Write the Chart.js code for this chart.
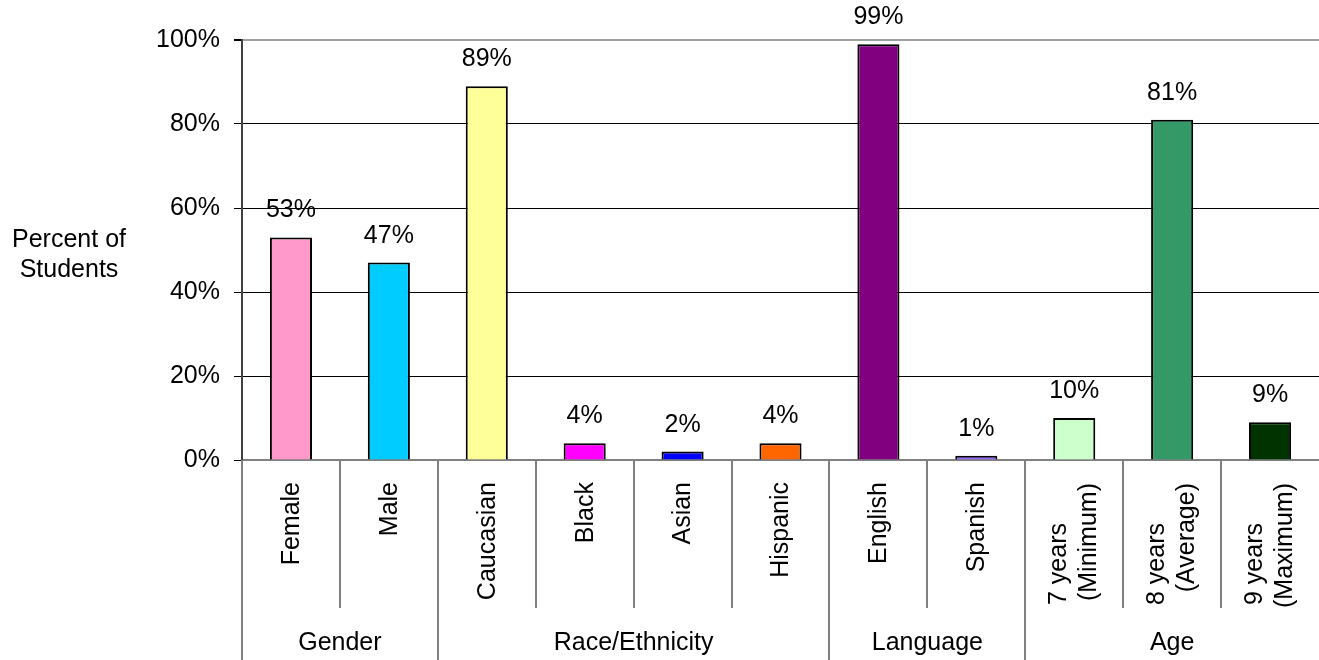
<!DOCTYPE html>
<html>
<head>
<meta charset="utf-8">
<script src="https://cdn.jsdelivr.net/npm/chart.js@4.4.0/dist/chart.umd.min.js"></script>
<style>
  body { margin: 0; background: #fff; }
  #wrap { width: 1319px; height: 660px; }
</style>
</head>
<body>
<div id="wrap"><canvas id="chart" width="1319" height="660"></canvas></div>
<script>
const categories = ["Female", "Male", "Caucasian", "Black", "Asian", "Hispanic", "English", "Spanish",
  ["7 years", "(Minimum)"], ["8 years", "(Average)"], ["9 years", "(Maximum)"]]
const percents = [53, 47, 89, 4, 2, 4, 99, 1, 10, 81, 9]
const barColors = ["#ff99cc", "#00ccff", "#ffff99", "#ff00ff", "#0000ff", "#ff6600",
  "#800080", "#9966ff", "#ccffcc", "#339966", "#003300"]
const groups = ["Gender", "Race/Ethnicity", "Language", "Age"]
const groupSizes = [2, 4, 2, 3]
const yTicks = [0, 20, 40, 60, 80, 100]

const FONT = '"Liberation Sans", Arial, sans-serif'
const F = (s) => s + "px " + FONT

// value labels above bars, two-level category axis, y title
const extras = {
  id: "extras",
  afterDatasetsDraw(chart) {
    const ctx = chart.ctx
    ctx.save()
    ctx.font = F(25)
    ctx.fillStyle = "#000"
    ctx.textAlign = "center"
    ctx.textBaseline = "alphabetic"
    chart.getDatasetMeta(0).data.forEach((bar, i) => {
      ctx.fillText(percents[i] + "%", bar.x, bar.y - 20)
    })
    ctx.restore()
  },
  afterDraw(chart) {
    const ctx = chart.ctx
    const x = chart.scales.x
    const base = chart.chartArea.bottom
    ctx.save()

    // separators between categories / groups
    let bounds = [0]
    groupSizes.reduce((a, n) => { bounds.push(a + n); return a + n }, 0)
    ctx.strokeStyle = "#808080"
    ctx.lineWidth = 2
    for (let i = 0; i < categories.length; i++) {
      const px = Math.round(x.getPixelForValue(i - 0.5))
      const end = bounds.includes(i) ? 660 : 608
      ctx.beginPath()
      ctx.moveTo(px, base)
      ctx.lineTo(px, end)
      ctx.stroke()
    }

    // rotated category labels
    ctx.fillStyle = "#000"
    ctx.font = F(25)
    ctx.textBaseline = "middle"
    categories.forEach((lab, i) => {
      const cx = x.getPixelForValue(i)
      ctx.save()
      ctx.translate(cx, 0)
      ctx.rotate(-Math.PI / 2)
      if (Array.isArray(lab)) {
        ctx.textAlign = "left"
        ctx.fillText(lab[0], -605, -15)
        ctx.textAlign = "right"
        ctx.fillText(lab[1], -483, 15)
      } else {
        ctx.textAlign = "right"
        ctx.fillText(lab, -482, 1)
      }
      ctx.restore()
    })

    // group labels
    ctx.textAlign = "center"
    ctx.textBaseline = "middle"
    groups.forEach((g, k) => {
      const l = x.getPixelForValue(bounds[k] - 0.5)
      const r = x.getPixelForValue(bounds[k + 1] - 0.5)
      ctx.fillText(g, (l + r) / 2, 643)
    })

    // y title
    ctx.textBaseline = "alphabetic"
    ctx.fillText("Percent of", 69, 247)
    ctx.fillText("Students", 69, 277)
    ctx.restore()
  }
}

new Chart(document.getElementById("chart").getContext("2d"), {
  type: "bar",
  data: {
    labels: categories,
    datasets: [{
      data: percents,
      backgroundColor: barColors,
      borderColor: "#000",
      borderWidth: 2,
      barPercentage: 0.43,
      categoryPercentage: 1
    }]
  },
  options: {
    responsive: false,
    animation: false,
    layout: { padding: { top: 40, left: 0, right: 0, bottom: 0 } },
    plugins: { legend: { display: false }, tooltip: { enabled: false } },
    scales: {
      x: {
        ticks: { display: false },
        grid: { display: false },
        border: { color: "#808080", width: 2 },
        afterFit: (s) => { s.height = 200 }
      },
      y: {
        min: 0,
        max: 100,
        afterBuildTicks: (s) => { s.ticks = yTicks.map(v => ({ value: v })) },
        ticks: {
          font: { family: FONT, size: 25 },
          color: "#000",
          padding: 14,
          callback: (v) => v + "%"
        },
        grid: {
          color: (c) => c.tick && c.tick.value === 100 ? "#a0a0a0" : "#000",
          lineWidth: (c) => c.tick && c.tick.value === 100 ? 2 : 1,
          tickColor: "#000",
          tickLength: 8
        },
        border: { color: "#404040", width: 2 },
        afterFit: (s) => { s.width = 242 }
      }
    }
  },
  plugins: [extras]
})
</script>
</body>
</html>
